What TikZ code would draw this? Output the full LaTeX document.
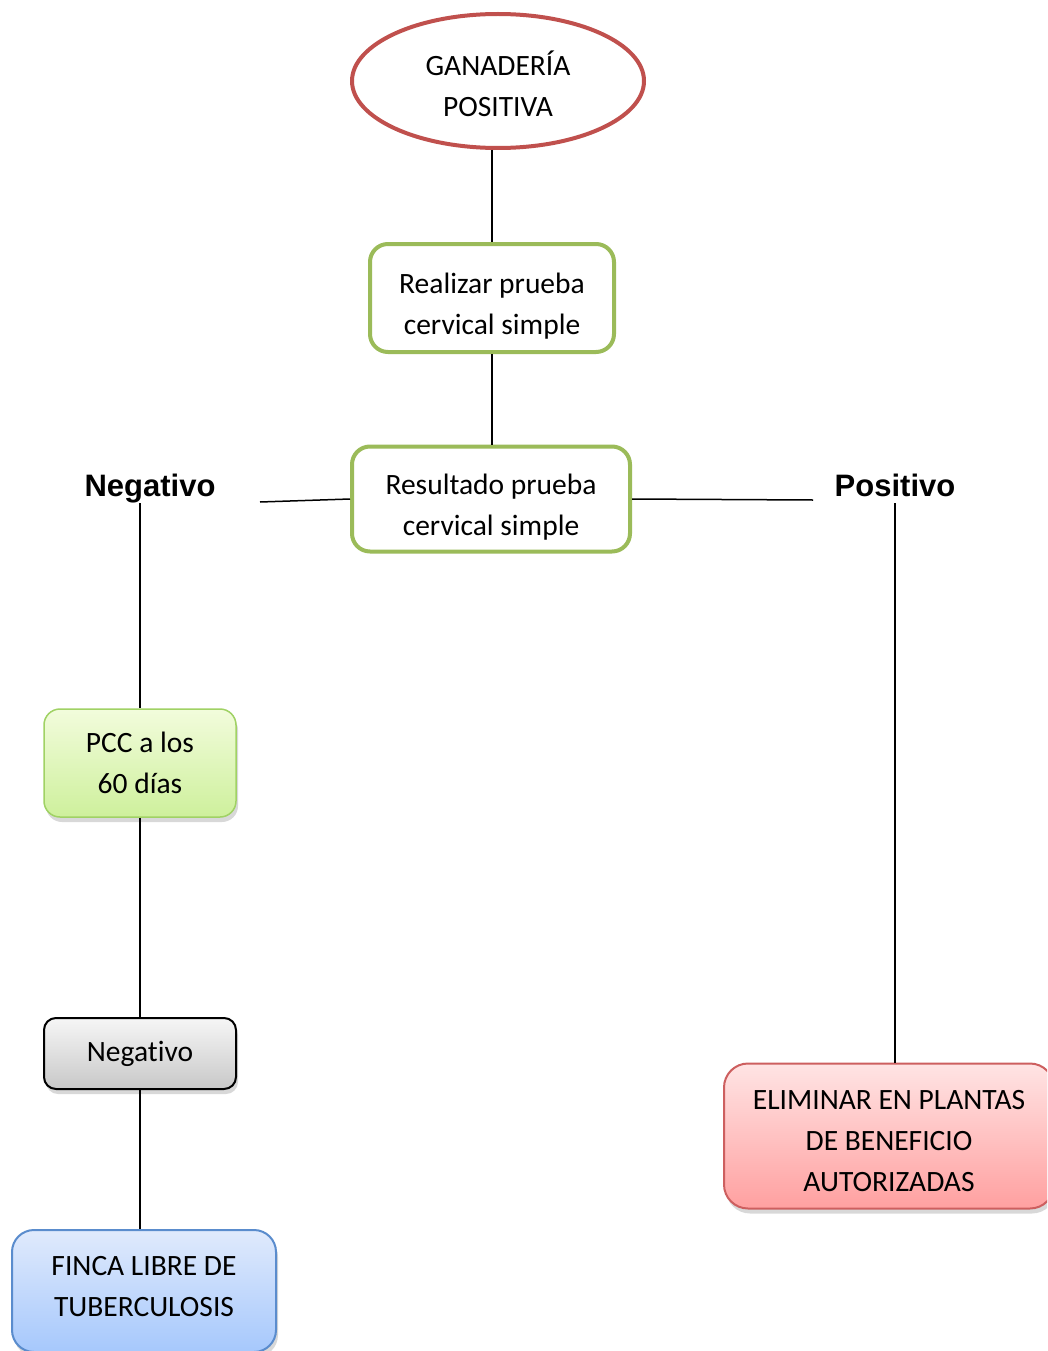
\documentclass[tikz,border=0pt]{standalone}
\usepackage{fontspec}
\setmainfont{Carlito}[Ligatures=NoCommon]
\newfontfamily\labelfont{Liberation Sans}
\usetikzlibrary{shapes.geometric,shadows}
\definecolor{ellred}{HTML}{C0504D}
\definecolor{boxgreen}{HTML}{9BBB59}
\begin{document}
\begin{tikzpicture}[x=1pt,y=-1pt,
    every node/.style={align=center,inner sep=0pt,font=\fontsize{29.5}{41}\selectfont},
    link/.style={line width=1.5pt},
    greenbox/.style={draw=boxgreen,line width=4pt,rounded corners=18pt,fill=white},
    softshadow/.style={drop shadow={opacity=0.3,shadow xshift=2pt,shadow yshift=-5pt}},
    textdown/.style={execute at begin node={\rule{0pt}{#1}}},
    textup/.style={execute at end node={\rule[-#1]{0pt}{0pt}}},
    answer/.style={font=\labelfont\bfseries\fontsize{31}{36}\selectfont,text height=22pt,text depth=7pt}]
        \clip (0,0) rectangle (1047,1351);
        \fill[white] (0,0) rectangle (1047,1351);
        % Top
        \node[ellipse,draw=ellred,line width=4pt,minimum width=292pt,minimum height=134pt,textdown=72pt]
          (ganaderia) at (498,81) {GANADERÍA\\POSITIVA};
        \node[greenbox,minimum width=244pt,minimum height=108pt,textdown=78pt] (realizar) at (492,298)
          {Realizar prueba\\cervical simple};
        \node[greenbox,minimum width=278pt,minimum height=105pt,textdown=78pt] (resultado) at (491,499)
          {Resultado prueba\\cervical simple};
        % Answers
        \node[answer] (neglabel) at (150,488.5) {Negativo};
        \node[answer] (poslabel) at (895,488.5) {Positivo};
        \coordinate (negend) at (260,502);
        \coordinate (posend) at (813,500);
        % Left branch
        \node[softshadow,draw={rgb,255:red,160;green,210;blue,100},line width=1.5pt,rounded corners=16pt,
          top color={rgb,255:red,242;green,252;blue,220},bottom color={rgb,255:red,206;green,240;blue,156},
          minimum width=192pt,minimum height=108pt] (pcc) at (140,763) {PCC a los\\60 días};
        \node[softshadow,draw=black,line width=2pt,rounded corners=12pt,
          top color={rgb,255:red,246;green,246;blue,246},bottom color={rgb,255:red,200;green,200;blue,200},
          minimum width=192pt,minimum height=71pt] (negbox) at (140,1053.5) {Negativo};
        \node[softshadow,draw={rgb,255:red,90;green,140;blue,205},line width=2pt,rounded corners=22pt,
          top color={rgb,255:red,224;green,234;blue,252},bottom color={rgb,255:red,166;green,200;blue,252},
          minimum width=264pt,minimum height=122pt,textup=10pt] (finca) at (144,1291) {FINCA LIBRE DE\\TUBERCULOSIS};
        % Right branch
        \node[softshadow,draw={rgb,255:red,205;green,95;blue,95},line width=2pt,rounded corners=24pt,
          top color={rgb,255:red,255;green,228;blue,228},bottom color={rgb,255:red,255;green,160;blue,160},
          minimum width=330pt,minimum height=145pt,textdown=111pt] (eliminar) at (889,1136) {ELIMINAR EN PLANTAS\\DE BENEFICIO\\AUTORIZADAS};
        % Connectors
        \draw[link] (realizar.north |- ganaderia.south) -- (realizar.north);
        \draw[link] (realizar.south) -- (realizar.south |- resultado.north);
        \draw[link] (resultado.west) -- (negend);
        \draw[link] (resultado.east) -- (posend);
        \draw[link] (neglabel.south -| pcc.north) -- (pcc.north);
        \draw[link] (pcc.south) -- (negbox.north);
        \draw[link] (negbox.south) -- (negbox.south |- finca.north);
        \draw[link] (poslabel.south) -- (poslabel.south |- eliminar.north);
      \end{tikzpicture}
\end{document}
